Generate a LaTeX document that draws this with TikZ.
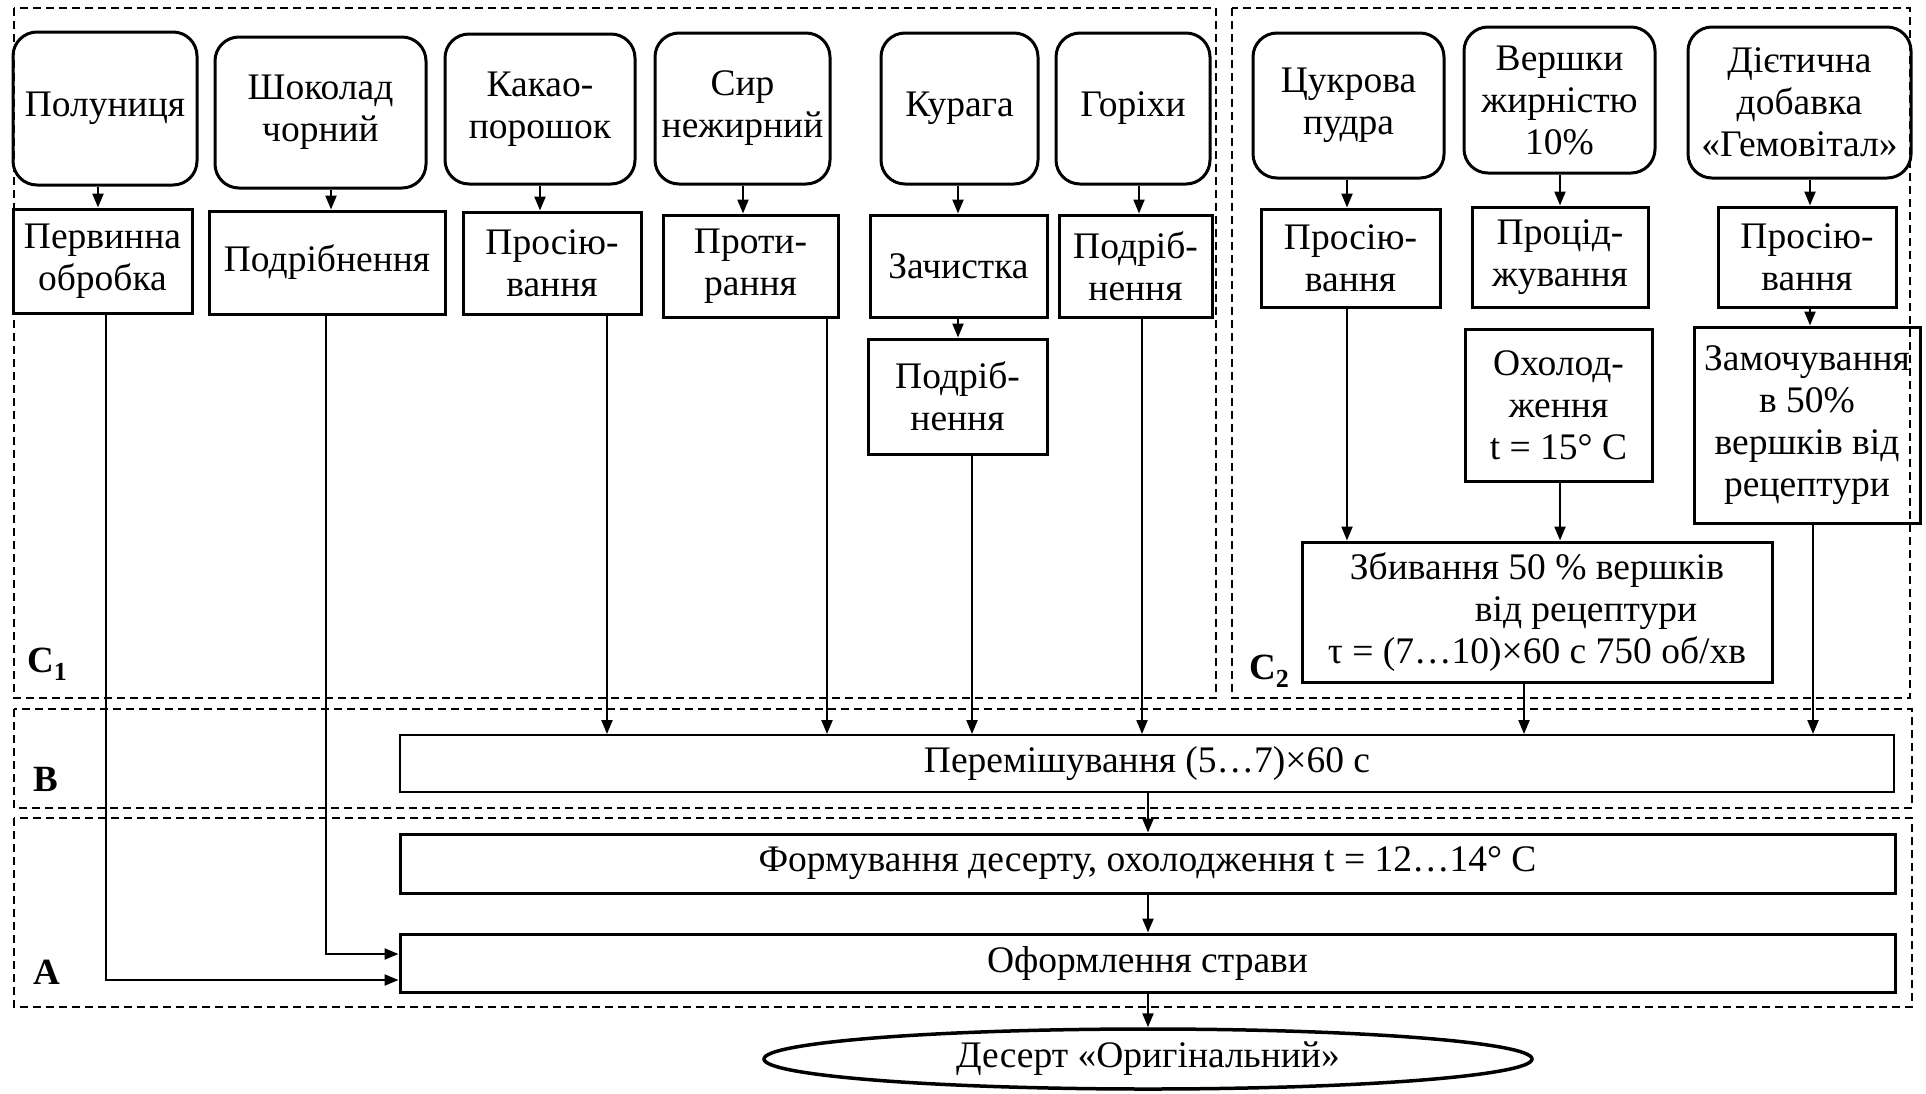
\documentclass[tikz,border=0pt]{standalone}
\usepackage{fontspec}
\setmainfont{Liberation Serif}
\usetikzlibrary{arrows.meta,shapes.geometric}
\begin{document}
\begin{tikzpicture}[x=1pt,y=-1pt,
  every node/.style={font=\fontsize{37.5}{42}\selectfont, align=center, inner sep=0pt},
  rbox/.style={draw, line width=3pt, rounded corners=24pt},
  sbox/.style={draw, line width=3pt},
  tbox/.style={draw, line width=2pt},
  arr/.style={line width=2.2pt, -{Triangle[length=14pt,width=11pt]}},
  zone/.style={line width=2pt, dash pattern=on 8pt off 5pt},
  lbl/.style={font=\fontsize{37}{42}\selectfont\bfseries, anchor=base west}
]
\fill[white] (0,0) rectangle (1926,1093);
\useasboundingbox (0,0) rectangle (1926,1093);

% zones
\draw[zone] (14,8) rectangle (1216,698);
\draw[zone] (1232,8) rectangle (1910,698);
\draw[zone] (14,709) rectangle (1912,808);
\draw[zone] (14,818) rectangle (1912,1007);

% zone labels
\node[lbl] (lc1) at (27,672) {C\raisebox{-0.22em}{\fontsize{26}{26}\selectfont 1}};
\node[lbl] (lc2) at (1249,679) {C\raisebox{-0.22em}{\fontsize{26}{26}\selectfont 2}};
\node[lbl] (lb) at (33,791) {B};
\node[lbl] (la) at (33,984) {A};

% row 1: raw materials
\node[rbox, minimum width=184pt, minimum height=153pt] (pol) at (105,108.5) {Полуниця};
\node[rbox, minimum width=211pt, minimum height=151pt] (shok) at (320.5,112.5) {Шоколад\\чорний};
\node[rbox, minimum width=190pt, minimum height=150pt] (kak) at (540,109) {Какао-\\порошок};
\node[rbox, minimum width=175pt, minimum height=151pt] (syr) at (742.5,108.5) {Сир\\нежирний};
\node[rbox, minimum width=157pt, minimum height=151pt] (kur) at (959.5,108.5) {Курага};
\node[rbox, minimum width=154pt, minimum height=151pt] (gor) at (1133,108.5) {Горіхи};
\node[rbox, minimum width=191pt, minimum height=145pt] (tsuk) at (1348.5,105.5) {Цукрова\\пудра};
\node[rbox, minimum width=191pt, minimum height=146pt] (versh) at (1559.5,100) {Вершки\\жирністю\\10\%};
\node[rbox, minimum width=223pt, minimum height=151pt] (diet) at (1799.5,102.5) {Дієтична\\добавка\\«Гемовітал»};

% row 2
\node[sbox, minimum width=179pt, minimum height=104pt] (perv) at (102.5,261) {Первинна\\обробка};
\node[sbox, minimum width=236pt, minimum height=103pt] (podr1) at (327,262.5) {Подрібнення};
\node[sbox, minimum width=178pt, minimum height=102pt] (pros1) at (552,263) {Просію-\\вання};
\node[sbox, minimum width=175pt, minimum height=102pt] (proty) at (750.5,266) {Проти-\\рання};
\node[sbox, minimum width=177pt, minimum height=102pt] (zach) at (958.5,266) {Зачистка};
\node[sbox, minimum width=153pt, minimum height=102pt] (podr2) at (1135.5,266) {Подріб-\\нення};
\node[sbox, minimum width=179pt, minimum height=98pt] (pros2) at (1350.5,258) {Просію-\\вання};
\node[sbox, minimum width=176pt, minimum height=100pt] (protsid) at (1560,257) {Процід-\\жування};
\node[sbox, minimum width=178pt, minimum height=100pt] (pros3) at (1807,257) {Просію-\\вання};

% row 3
\node[sbox, minimum width=179pt, minimum height=115pt] (podr3) at (957.5,396.5) {Подріб-\\нення};
\node[sbox, minimum width=187pt, minimum height=152pt] (okhol) at (1558.5,405) {Охолод-\\ження\\t = 15° C};
\node[sbox, minimum width=226pt, minimum height=196pt] (zamoch) at (1807,425) {Замочування\\в 50\%\\вершків від\\рецептури};
\node[sbox, minimum width=470pt, minimum height=140pt] (zbyv) at (1537,612) {Збивання 50 \% вершків\\\hspace*{98pt}від рецептури\\τ = (7…10)×60 с 750 об/хв};

% bottom stages
\node[tbox, minimum width=1494pt, minimum height=57pt] (perem) at (1147,763.5) {Перемішування (5…7)×60 с};
\node[sbox, minimum width=1495pt, minimum height=59pt] (form) at (1147.5,863.5) {Формування десерту, охолодження t = 12…14° C};
\node[sbox, minimum width=1495pt, minimum height=58pt] (ofor) at (1147.5,963) {Оформлення страви};
\node[ellipse, draw, line width=3.5pt, minimum width=768pt, minimum height=60pt] (des) at (1148,1059) {Десерт «Оригінальний»};

% connector x positions
\coordinate (xa) at (98,0);
\coordinate (xb) at (331,0);
\coordinate (xc) at (540,0);
\coordinate (xd) at (743,0);
\coordinate (xe) at (958,0);
\coordinate (xf) at (1139,0);
\coordinate (xg) at (1347,0);
\coordinate (xh) at (1560,0);
\coordinate (xi) at (1810,0);
\coordinate (ya) at (607,0);
\coordinate (yb) at (827,0);
\coordinate (yc) at (972,0);
\coordinate (yd) at (1142,0);
\coordinate (ye) at (1524,0);
\coordinate (yf) at (1813,0);
\coordinate (zc) at (1148,0);
\coordinate (cperv) at (106,980);
\coordinate (cpodr) at (326,954);

% connectors
\draw[arr] (pol.south -| xa) -- (perv.north -| xa);
\draw[arr] (shok.south -| xb) -- (podr1.north -| xb);
\draw[arr] (kak.south -| xc) -- (pros1.north -| xc);
\draw[arr] (syr.south -| xd) -- (proty.north -| xd);
\draw[arr] (kur.south -| xe) -- (zach.north -| xe);
\draw[arr] (zach.south -| xe) -- (podr3.north -| xe);
\draw[arr] (gor.south -| xf) -- (podr2.north -| xf);
\draw[arr] (tsuk.south -| xg) -- (pros2.north -| xg);
\draw[arr] (pros2.south -| xg) -- (zbyv.north -| xg);
\draw[arr] (versh.south -| xh) -- (protsid.north -| xh);
\draw[arr] (okhol.south -| xh) -- (zbyv.north -| xh);
\draw[arr] (diet.south -| xi) -- (pros3.north -| xi);
\draw[arr] (pros3.south -| xi) -- (zamoch.north -| xi);

\draw[arr] (pros1.south -| ya) -- (perem.north -| ya);
\draw[arr] (proty.south -| yb) -- (perem.north -| yb);
\draw[arr] (podr3.south -| yc) -- (perem.north -| yc);
\draw[arr] (podr2.south -| yd) -- (perem.north -| yd);
\draw[arr] (zbyv.south -| ye) -- (perem.north -| ye);
\draw[arr] (zamoch.south -| yf) -- (perem.north -| yf);

\draw[arr] (perem.south -| zc) -- (form.north -| zc);
\draw[arr] (form.south -| zc) -- (ofor.north -| zc);
\draw[arr] (ofor.south -| zc) -- (des.north -| zc);

\draw[arr] (perv.south -| cperv) |- (ofor.west |- cperv);
\draw[arr] (podr1.south -| cpodr) |- (ofor.west |- cpodr);
\end{tikzpicture}
\end{document}
